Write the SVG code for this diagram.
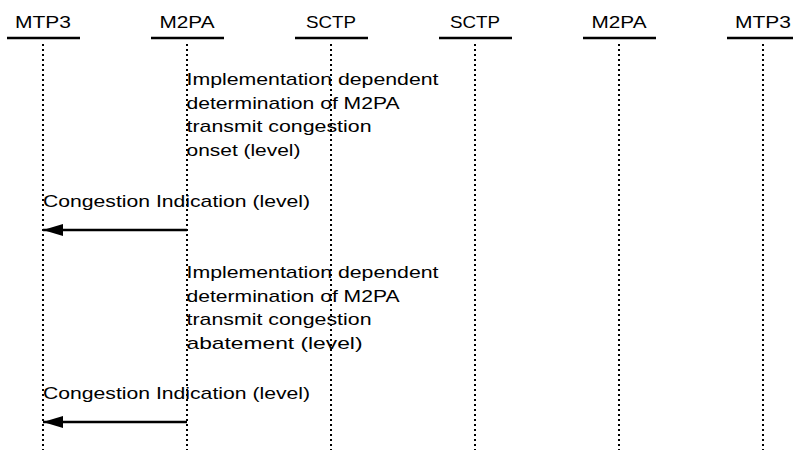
<svg xmlns="http://www.w3.org/2000/svg" width="793" height="450" viewBox="0 0 793 450">
<style>
text{font-family:"Liberation Sans",Arial,sans-serif;font-size:17px;fill:#000}
.hdr{text-anchor:middle}
.bar{stroke:#000;stroke-width:2.5}
.life{stroke:#000;stroke-width:2;stroke-dasharray:2 3}
.msg{stroke:#000;stroke-width:2.5;fill:none}
</style>
<defs>
<marker id="ah" markerWidth="20" markerHeight="12" refX="20" refY="6" orient="auto" markerUnits="userSpaceOnUse">
<path d="M0,0 L20,6 L0,12 Z" fill="#000"/>
</marker>
</defs>
<rect width="793" height="450" fill="#fff"/>
<g id="n-mtp3-a"><text class="hdr" x="43" y="28" textLength="56" lengthAdjust="spacingAndGlyphs">MTP3</text><line class="bar" x1="7" y1="38" x2="80" y2="38"/></g>
<g id="n-m2pa-a"><text class="hdr" x="187" y="28" textLength="55" lengthAdjust="spacingAndGlyphs">M2PA</text><line class="bar" x1="151" y1="38" x2="224" y2="38"/></g>
<g id="n-sctp-a"><text class="hdr" x="331" y="28" textLength="50" lengthAdjust="spacingAndGlyphs">SCTP</text><line class="bar" x1="295" y1="38" x2="368" y2="38"/></g>
<g id="n-sctp-b"><text class="hdr" x="475" y="28" textLength="50" lengthAdjust="spacingAndGlyphs">SCTP</text><line class="bar" x1="439" y1="38" x2="512" y2="38"/></g>
<g id="n-m2pa-b"><text class="hdr" x="619" y="28" textLength="55" lengthAdjust="spacingAndGlyphs">M2PA</text><line class="bar" x1="583" y1="38" x2="656" y2="38"/></g>
<g id="n-mtp3-b"><text class="hdr" x="763" y="28" textLength="56" lengthAdjust="spacingAndGlyphs">MTP3</text><line class="bar" x1="727" y1="38" x2="800" y2="38"/></g>
<g id="lifelines">
<line class="life" x1="43" y1="44" x2="43" y2="450"/>
<line class="life" x1="187" y1="44" x2="187" y2="450"/>
<line class="life" x1="331" y1="44" x2="331" y2="450"/>
<line class="life" x1="475" y1="44" x2="475" y2="450"/>
<line class="life" x1="619" y1="44" x2="619" y2="450"/>
<line class="life" x1="763" y1="44" x2="763" y2="450"/>
</g>
<g id="notes">
<text x="186.5" y="85" textLength="252" lengthAdjust="spacingAndGlyphs">Implementation dependent</text>
<text x="186.5" y="108.5" textLength="213" lengthAdjust="spacingAndGlyphs">determination of M2PA</text>
<text x="186.5" y="132" textLength="185" lengthAdjust="spacingAndGlyphs">transmit congestion</text>
<text x="186.5" y="155.5" textLength="114" lengthAdjust="spacingAndGlyphs">onset (level)</text>
<text x="186.5" y="278" textLength="252" lengthAdjust="spacingAndGlyphs">Implementation dependent</text>
<text x="186.5" y="301.5" textLength="213" lengthAdjust="spacingAndGlyphs">determination of M2PA</text>
<text x="186.5" y="325" textLength="185" lengthAdjust="spacingAndGlyphs">transmit congestion</text>
<text x="186.5" y="348.5" textLength="176" lengthAdjust="spacingAndGlyphs">abatement (level)</text>
</g>
<g id="connectors">
<text x="43" y="207" textLength="267" lengthAdjust="spacingAndGlyphs">Congestion Indication (level)</text>
<line class="msg" x1="187" y1="230" x2="43" y2="230" marker-end="url(#ah)"/>
<text x="43" y="399" textLength="267" lengthAdjust="spacingAndGlyphs">Congestion Indication (level)</text>
<line class="msg" x1="187" y1="422" x2="43" y2="422" marker-end="url(#ah)"/>
</g>
</svg>
